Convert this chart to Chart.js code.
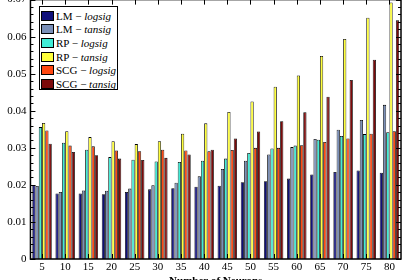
<!DOCTYPE html>
<html>
<head>
<meta charset="utf-8">
<script src="https://cdn.jsdelivr.net/npm/chart.js@4"></script>
<style>
  html, body { margin: 0; padding: 0; background: #fff; overflow: hidden; }
  body { width: 404px; height: 280px; position: relative; }
  #wrap { position: absolute; left: -12px; top: -11px; width: 416px; height: 298px; }
  #leyenda {
    position: absolute; left: 39px; top: 6px; width: 79px; height: 84px;
    border: 1.5px solid #000; background: #fff;
    font-family: "Liberation Serif", "DejaVu Serif", serif; font-size: 11px; color: #000;
    box-sizing: border-box; padding-top: 2px;
  }
  .item { height: 13.6px; display: flex; align-items: center; white-space: nowrap; }
  .cuadro { width: 13px; height: 10px; border: 1px solid #000; margin: 0 2px 0 1px; box-sizing: border-box; }
</style>
</head>
<body>
<div id="wrap"><canvas id="grafico"></canvas></div>
<div id="leyenda"></div>
<script>
// datos
const neuronas = ['5','10','15','20','25','30','35','40','45','50','55','60','65','70','75','80'];
const lmLogsig  = [0.0200,0.0177,0.0177,0.0175,0.0181,0.0188,0.0191,0.0195,0.0198,0.0207,0.0210,0.0217,0.0228,0.0235,0.0239,0.0233];
const lmTansig  = [0.0197,0.0181,0.0185,0.0184,0.0190,0.0199,0.0206,0.0223,0.0243,0.0265,0.0282,0.0302,0.0324,0.0349,0.0375,0.0416];
const rpLogsig  = [0.0356,0.0314,0.0295,0.0275,0.0268,0.0263,0.0262,0.0265,0.0271,0.0286,0.0298,0.0306,0.0322,0.0332,0.0337,0.0342];
const rpTansig  = [0.0367,0.0345,0.0329,0.0318,0.0310,0.0318,0.0338,0.0366,0.0397,0.0425,0.0465,0.0495,0.0548,0.0594,0.0651,0.0692];
const scgLogsig = [0.0347,0.0306,0.0304,0.0293,0.0291,0.0295,0.0293,0.0291,0.0294,0.0300,0.0300,0.0307,0.0316,0.0325,0.0338,0.0345];
const scgTansig = [0.0311,0.0289,0.0280,0.0271,0.0267,0.0273,0.0282,0.0295,0.0325,0.0344,0.0372,0.0396,0.0438,0.0483,0.0538,0.0644];
const yTicks = [0, 0.01, 0.02, 0.03, 0.04, 0.05, 0.06, 0.07];

const series = [
  { alg: 'LM',  fn: 'logsig', data: lmLogsig,  color: '#10107a' },
  { alg: 'LM',  fn: 'tansig', data: lmTansig,  color: '#7a8fb8' },
  { alg: 'RP',  fn: 'logsig', data: rpLogsig,  color: '#40ecd6' },
  { alg: 'RP',  fn: 'tansig', data: rpTansig,  color: '#ffff3a' },
  { alg: 'SCG', fn: 'logsig', data: scgLogsig, color: '#ff4812' },
  { alg: 'SCG', fn: 'tansig', data: scgTansig, color: '#7c0a0a' },
];

const FUENTE = '"Liberation Serif", "DejaVu Serif", serif';

// marco y marcas de ticks hacia adentro (estilo matlab)
const marco = {
  id: 'marco',
  afterDraw(chart) {
    const { ctx, chartArea: a, scales } = chart;
    const x = scales.x, y = scales.y;
    ctx.save();
    ctx.strokeStyle = '#000';
    ctx.lineWidth = 1;
    ctx.beginPath();
    yTicks.forEach((v) => {
      const py = Math.round(y.getPixelForValue(v)) + 0.5;
      ctx.moveTo(a.left, py); ctx.lineTo(a.left + 5, py);
      ctx.moveTo(a.right, py); ctx.lineTo(a.right - 5, py);
    });
    for (let v = 0; v <= 0.07; v += 0.002) {
      const py = Math.round(y.getPixelForValue(v)) + 0.5;
      ctx.moveTo(a.left, py); ctx.lineTo(a.left + 3, py);
      ctx.moveTo(a.right, py); ctx.lineTo(a.right - 3, py);
    }
    neuronas.forEach((n, i) => {
      const px = Math.round(x.getPixelForValue(i)) + 0.5;
      ctx.moveTo(px, a.bottom); ctx.lineTo(px, a.bottom - 5);
      ctx.moveTo(px, a.top); ctx.lineTo(px, a.top + 5);
    });
    ctx.stroke();
    ctx.lineWidth = 1.5;
    ctx.strokeRect(a.left, a.top, a.width, a.height);
    ctx.restore();
  }
};

new Chart(document.getElementById('grafico'), {
  type: 'bar',
  data: {
    labels: neuronas,
    datasets: series.map((s) => ({
      label: s.alg + ' − ' + s.fn,
      data: s.data,
      backgroundColor: s.color,
      borderColor: '#000',
      borderWidth: 0.8,
      barPercentage: 1,
      categoryPercentage: 0.84,
    })),
  },
  options: {
    responsive: true,
    maintainAspectRatio: false,
    animation: false,
    layout: { padding: { left: 0, right: 3, top: 0, bottom: 0 } },
    plugins: { legend: { display: false }, tooltip: { enabled: false } },
    scales: {
      x: {
        grid: { display: false, drawTicks: false },
        border: { display: false },
        ticks: { color: '#000', font: { family: FUENTE, size: 11, lineHeight: 1 }, padding: 3, maxRotation: 0, autoSkip: false },
        title: { display: true, text: 'Number of Neurons', color: '#000', padding: { top: 0, bottom: 0 },
                 font: { family: FUENTE, size: 11, weight: 'bold', lineHeight: 1 } },
      },
      y: {
        min: 0,
        max: 0.07,
        afterBuildTicks: (axis) => { axis.ticks = yTicks.map((v) => ({ value: v })); },
        grid: { display: false, drawTicks: false },
        border: { display: false },
        ticks: {
          color: '#000', padding: 4,
          font: { family: FUENTE, size: 11 },
          callback: (v) => (v === 0 ? '0' : v.toFixed(2)),
        },
        title: { display: true, text: 'rmse', color: '#000', padding: { top: 0, bottom: 2 },
                 font: { family: FUENTE, size: 11, weight: 'bold', style: 'italic' } },
      },
    },
  },
  plugins: [marco],
});

// leyenda en html para poder poner la funcion en cursiva
const leyenda = document.getElementById('leyenda');
series.forEach((s) => {
  const fila = document.createElement('div');
  fila.className = 'item';
  const cuadro = document.createElement('span');
  cuadro.className = 'cuadro';
  cuadro.style.background = s.color;
  const texto = document.createElement('span');
  texto.innerHTML = s.alg + ' − <i>' + s.fn + '</i>';
  fila.appendChild(cuadro);
  fila.appendChild(texto);
  leyenda.appendChild(fila);
});
</script>
</body>
</html>
